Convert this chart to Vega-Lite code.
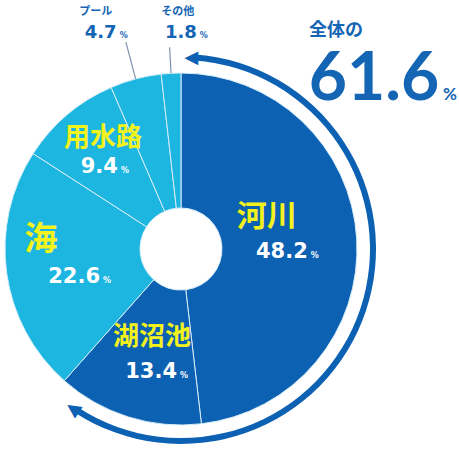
{
  "$schema": "https://vega.github.io/schema/vega-lite/v6.json",
  "width": 362,
  "height": 402,
  "autosize": {"type": "none"},
  "padding": {"left": 0, "top": 48, "right": 97, "bottom": 0},
  "background": "white",
  "config": {"view": {"stroke": null}},
  "data": {"values": [
    {"rank": 1, "category": "河川", "value": 48.2, "group": "dark"},
    {"rank": 2, "category": "湖沼池", "value": 13.4, "group": "dark"},
    {"rank": 3, "category": "海", "value": 22.6, "group": "light"},
    {"rank": 4, "category": "用水路", "value": 9.4, "group": "light"},
    {"rank": 5, "category": "プール", "value": 4.7, "group": "light"},
    {"rank": 6, "category": "その他", "value": 1.8, "group": "light"}
  ]},
  "transform": [
    {"stack": "value", "groupby": [], "sort": [{"field": "rank", "order": "ascending"}], "as": ["start", "end"]},
    {"calculate": "(datum.start + datum.end) / 2", "as": "mid"}
  ],
  "layer": [
    {
      "mark": {"type": "arc", "radius": 176, "radius2": 41, "stroke": "#d6edf8", "strokeWidth": 1},
      "encoding": {
        "theta": {"field": "start", "type": "quantitative", "scale": {"domain": [0, 100.1]}, "stack": null},
        "theta2": {"field": "end"},
        "color": {"field": "group", "type": "nominal", "scale": {"domain": ["dark", "light"], "range": ["#0d61b3", "#1db6e0"]}, "legend": null}
      }
    },
    {
      "transform": [{"filter": "datum.category === 'プール'"}],
      "mark": {"type": "arc", "radius": 214, "radius2": 176, "fill": "transparent", "stroke": "#7d93ad", "strokeWidth": 1.2},
      "encoding": {
        "theta": {"field": "mid", "type": "quantitative", "scale": {"domain": [0, 100.1]}, "stack": null},
        "theta2": {"field": "mid"}
      }
    },
    {
      "transform": [{"filter": "datum.category === 'その他'"}],
      "mark": {"type": "arc", "radius": 202, "radius2": 176, "fill": "transparent", "stroke": "#7d93ad", "strokeWidth": 1.2},
      "encoding": {
        "theta": {"field": "mid", "type": "quantitative", "scale": {"domain": [0, 100.1]}, "stack": null},
        "theta2": {"field": "mid"}
      }
    },
    {
      "transform": [
        {"filter": "datum.group === 'dark'"},
        {"aggregate": [{"op": "min", "field": "start", "as": "start"}, {"op": "max", "field": "end", "as": "end"}, {"op": "sum", "field": "value", "as": "total"}]}
      ],
      "layer": [
        {
          "mark": {"type": "arc", "radius": 195, "radius2": 189, "fill": "#0d61b3", "thetaOffset": 0.07, "theta2Offset": -0.15},
          "encoding": {
            "theta": {"field": "start", "type": "quantitative", "scale": {"domain": [0, 100.1]}, "stack": null},
            "theta2": {"field": "end"}
          }
        },
        {
          "mark": {"type": "text", "text": "▲", "radius": 191, "thetaOffset": 0.05, "angle": 270, "align": "center", "baseline": "middle", "font": "DejaVu Sans", "fontSize": 18, "fill": "#0d61b3"},
          "encoding": {
            "theta": {"field": "start", "type": "quantitative", "scale": {"domain": [0, 100.1]}, "stack": null}
          }
        },
        {
          "mark": {"type": "text", "text": "▲", "radius": 193, "thetaOffset": -0.13, "angle": 304, "align": "center", "baseline": "middle", "font": "DejaVu Sans", "fontSize": 18, "fill": "#0d61b3"},
          "encoding": {
            "theta": {"field": "end", "type": "quantitative", "scale": {"domain": [0, 100.1]}, "stack": null}
          }
        },
        {
          "mark": {"type": "text", "text": "全体の", "radius": 193, "dx": 155, "dy": -25, "align": "center", "baseline": "middle", "font": "Noto Sans CJK JP", "fontWeight": "bold", "fontSize": 18, "fill": "#1565b5"},
          "encoding": {
            "theta": {"field": "start", "type": "quantitative", "scale": {"domain": [0, 100.1]}, "stack": null}
          }
        },
        {
          "mark": {"type": "text", "radius": 193, "dx": 193, "dy": 44, "align": "center", "baseline": "alphabetic", "font": "Lato", "fontWeight": "bold", "fontSize": 66, "fill": "#1565b5"},
          "encoding": {
            "theta": {"field": "start", "type": "quantitative", "scale": {"domain": [0, 100.1]}, "stack": null},
            "text": {"field": "total", "type": "quantitative", "format": ".1f"}
          }
        },
        {
          "mark": {"type": "text", "text": "%", "radius": 193, "dx": 262, "dy": 44, "align": "left", "baseline": "alphabetic", "font": "Lato", "fontWeight": "bold", "fontSize": 17, "fill": "#1565b5"},
          "encoding": {
            "theta": {"field": "start", "type": "quantitative", "scale": {"domain": [0, 100.1]}, "stack": null}
          }
        }
      ]
    },
    {
      "transform": [{"filter": "datum.category === '河川'"}],
      "encoding": {"theta": {"field": "mid", "type": "quantitative", "scale": {"domain": [0, 100.1]}, "stack": null}},
      "layer": [
        {"mark": {"type": "text", "radius": 110, "dx": -24, "dy": -26, "align": "center", "baseline": "middle", "font": "Noto Sans CJK JP", "fontWeight": "bold", "fontSize": 30, "fill": "#f4f21c"}, "encoding": {"text": {"field": "category"}}},
        {"mark": {"type": "text", "radius": 110, "dx": 17, "dy": 15, "align": "right", "baseline": "alphabetic", "font": "DejaVu Sans", "fontWeight": "bold", "fontSize": 21, "fill": "white"}, "encoding": {"text": {"field": "value", "type": "quantitative", "format": ".1f"}}},
        {"mark": {"type": "text", "text": "%", "radius": 110, "dx": 20, "dy": 15, "align": "left", "baseline": "alphabetic", "font": "DejaVu Sans", "fontWeight": "bold", "fontSize": 8, "fill": "white"}}
      ]
    },
    {
      "transform": [{"filter": "datum.category === '湖沼池'"}],
      "encoding": {"theta": {"field": "mid", "type": "quantitative", "scale": {"domain": [0, 100.1]}, "stack": null}},
      "layer": [
        {"mark": {"type": "text", "radius": 110, "dx": 4, "dy": -17, "align": "center", "baseline": "middle", "font": "Noto Sans CJK JP", "fontWeight": "bold", "fontSize": 26, "fill": "#f4f21c"}, "encoding": {"text": {"field": "category"}}},
        {"mark": {"type": "text", "radius": 110, "dx": 29, "dy": 24, "align": "right", "baseline": "alphabetic", "font": "DejaVu Sans", "fontWeight": "bold", "fontSize": 21, "fill": "white"}, "encoding": {"text": {"field": "value", "type": "quantitative", "format": ".1f"}}},
        {"mark": {"type": "text", "text": "%", "radius": 110, "dx": 32, "dy": 24, "align": "left", "baseline": "alphabetic", "font": "DejaVu Sans", "fontWeight": "bold", "fontSize": 8, "fill": "white"}}
      ]
    },
    {
      "transform": [{"filter": "datum.category === '海'"}],
      "encoding": {"theta": {"field": "mid", "type": "quantitative", "scale": {"domain": [0, 100.1]}, "stack": null}},
      "layer": [
        {"mark": {"type": "text", "radius": 110, "dx": -31, "dy": -24, "align": "center", "baseline": "middle", "font": "Noto Sans CJK JP", "fontWeight": "bold", "fontSize": 33, "fill": "#f4f21c"}, "encoding": {"text": {"field": "category"}}},
        {"mark": {"type": "text", "radius": 110, "dx": 28, "dy": 19, "align": "right", "baseline": "alphabetic", "font": "DejaVu Sans", "fontWeight": "bold", "fontSize": 21, "fill": "white"}, "encoding": {"text": {"field": "value", "type": "quantitative", "format": ".1f"}}},
        {"mark": {"type": "text", "text": "%", "radius": 110, "dx": 31, "dy": 19, "align": "left", "baseline": "alphabetic", "font": "DejaVu Sans", "fontWeight": "bold", "fontSize": 8, "fill": "white"}}
      ]
    },
    {
      "transform": [{"filter": "datum.category === '用水路'"}],
      "encoding": {"theta": {"field": "mid", "type": "quantitative", "scale": {"domain": [0, 100.1]}, "stack": null}},
      "layer": [
        {"mark": {"type": "text", "radius": 110, "dx": -7, "dy": -27, "align": "center", "baseline": "middle", "font": "Noto Sans CJK JP", "fontWeight": "bold", "fontSize": 26, "fill": "#f4f21c"}, "encoding": {"text": {"field": "category"}}},
        {"mark": {"type": "text", "radius": 110, "dx": 8, "dy": 8, "align": "right", "baseline": "alphabetic", "font": "DejaVu Sans", "fontWeight": "bold", "fontSize": 21, "fill": "white"}, "encoding": {"text": {"field": "value", "type": "quantitative", "format": ".1f"}}},
        {"mark": {"type": "text", "text": "%", "radius": 110, "dx": 11, "dy": 8, "align": "left", "baseline": "alphabetic", "font": "DejaVu Sans", "fontWeight": "bold", "fontSize": 8, "fill": "white"}}
      ]
    },
    {
      "transform": [{"filter": "datum.category === 'プール'"}],
      "encoding": {"theta": {"field": "mid", "type": "quantitative", "scale": {"domain": [0, 100.1]}, "stack": null}},
      "layer": [
        {"mark": {"type": "text", "radius": 215, "dx": -30, "dy": -29, "align": "center", "baseline": "middle", "font": "Noto Sans CJK JP", "fontWeight": "bold", "fontSize": 11, "fill": "#1565b5"}, "encoding": {"text": {"field": "category"}}},
        {"mark": {"type": "text", "radius": 215, "dx": -9, "dy": -3, "align": "right", "baseline": "alphabetic", "font": "DejaVu Sans", "fontWeight": "bold", "fontSize": 18, "fill": "#1565b5"}, "encoding": {"text": {"field": "value", "type": "quantitative", "format": ".1f"}}},
        {"mark": {"type": "text", "text": "%", "radius": 215, "dx": -6, "dy": -3, "align": "left", "baseline": "alphabetic", "font": "DejaVu Sans", "fontWeight": "bold", "fontSize": 8, "fill": "#1565b5"}}
      ]
    },
    {
      "transform": [{"filter": "datum.category === 'その他'"}],
      "encoding": {"theta": {"field": "mid", "type": "quantitative", "scale": {"domain": [0, 100.1]}, "stack": null}},
      "layer": [
        {"mark": {"type": "text", "radius": 215, "dx": 9, "dy": -22, "align": "center", "baseline": "middle", "font": "Noto Sans CJK JP", "fontWeight": "bold", "fontSize": 11, "fill": "#1565b5"}, "encoding": {"text": {"field": "category"}}},
        {"mark": {"type": "text", "radius": 215, "dx": 28, "dy": 4, "align": "right", "baseline": "alphabetic", "font": "DejaVu Sans", "fontWeight": "bold", "fontSize": 18, "fill": "#1565b5"}, "encoding": {"text": {"field": "value", "type": "quantitative", "format": ".1f"}}},
        {"mark": {"type": "text", "text": "%", "radius": 215, "dx": 31, "dy": 4, "align": "left", "baseline": "alphabetic", "font": "DejaVu Sans", "fontWeight": "bold", "fontSize": 8, "fill": "#1565b5"}}
      ]
    }
  ]
}
